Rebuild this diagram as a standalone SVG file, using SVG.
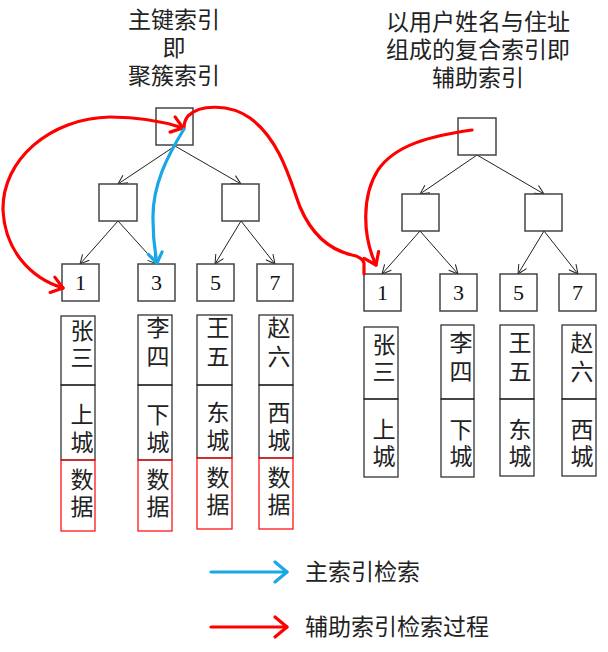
<svg xmlns="http://www.w3.org/2000/svg" width="608" height="652" viewBox="0 0 608 652">
  <style>
    .box { fill: #fff; stroke: #444; stroke-width: 1.5; }
    .col { fill: none; stroke: #222; stroke-width: 1.2; }
    .dat { fill: none; stroke: #f00; stroke-width: 1.2; }
    .cjk { font-family: "Liberation Sans", "Noto Sans CJK SC", sans-serif; font-size: 23px; fill: #222; text-anchor: middle; }
    .num { font-family: "Liberation Serif", serif; font-size: 22px; fill: #111; text-anchor: middle; }
    .edge { stroke: #222; stroke-width: 1; fill: none; marker-end: url(#thin); }
    .red { stroke: #f00; stroke-width: 3.2; fill: none; stroke-linecap: round; }
    .blue { stroke: #1aa7e6; stroke-width: 3.2; fill: none; stroke-linecap: round; }
  </style>
  <defs>
    <marker id="thin" markerUnits="userSpaceOnUse" markerWidth="12" markerHeight="12" refX="9" refY="4.5" orient="auto" overflow="visible">
      <path d="M0,0 L9,4.5 L0,9" fill="none" stroke="#222" stroke-width="1"/>
    </marker>
    <marker id="redHead" markerUnits="userSpaceOnUse" markerWidth="16" markerHeight="16" refX="11" refY="8" orient="auto" overflow="visible">
      <path d="M0,0 L11,8 L0,16" fill="none" stroke="#f00" stroke-width="3.2" stroke-linecap="round" stroke-linejoin="round"/>
    </marker>
    <marker id="redStart" markerUnits="userSpaceOnUse" markerWidth="16" markerHeight="16" refX="11" refY="8" orient="auto-start-reverse" overflow="visible">
      <path d="M0,0 L11,8 L0,16" fill="none" stroke="#f00" stroke-width="3.2" stroke-linecap="round" stroke-linejoin="round"/>
    </marker>
    <marker id="blueHead" markerUnits="userSpaceOnUse" markerWidth="16" markerHeight="16" refX="10" refY="7" orient="auto" overflow="visible">
      <path d="M0,0 L10,7 L0,14" fill="none" stroke="#1aa7e6" stroke-width="3.2" stroke-linecap="round" stroke-linejoin="round"/>
    </marker>
    <marker id="legRed" markerUnits="userSpaceOnUse" markerWidth="16" markerHeight="24" refX="12" refY="10" orient="auto" overflow="visible">
      <path d="M0,0 L12,10 L0,20" fill="none" stroke="#f00" stroke-width="3.2" stroke-linecap="round" stroke-linejoin="round"/>
    </marker>
    <marker id="legBlue" markerUnits="userSpaceOnUse" markerWidth="16" markerHeight="24" refX="12" refY="10" orient="auto" overflow="visible">
      <path d="M0,0 L12,10 L0,20" fill="none" stroke="#1aa7e6" stroke-width="3.2" stroke-linecap="round" stroke-linejoin="round"/>
    </marker>
  </defs>

  <!-- titles -->
  <g id="title-clustered">
    <text class="cjk"><tspan x="174" y="28">主键索引</tspan><tspan x="174" y="56">即</tspan><tspan x="174" y="84">聚簇索引</tspan></text>
  </g>
  <g id="title-secondary">
    <text class="cjk"><tspan x="478" y="30">以用户姓名与住址</tspan><tspan x="478" y="58">组成的复合索引即</tspan><tspan x="478" y="86">辅助索引</tspan></text>
  </g>

  <!-- tree edges -->
  <g id="connectors">
    <path class="edge" d="M175,146 L118,184"/>
    <path class="edge" d="M175,146 L241,184"/>
    <path class="edge" d="M118,221 L80,264"/>
    <path class="edge" d="M118,221 L157,264"/>
    <path class="edge" d="M241,221 L215,264"/>
    <path class="edge" d="M241,221 L275,264"/>
    <path class="edge" d="M477,155 L420,194"/>
    <path class="edge" d="M477,155 L544,194"/>
    <path class="edge" d="M420,231 L382,274"/>
    <path class="edge" d="M420,231 L458,274"/>
    <path class="edge" d="M544,231 L518,274"/>
    <path class="edge" d="M544,231 L578,274"/>
  </g>

  <!-- clustered index tree -->
  <g id="c-root"><rect class="box" x="156" y="108" width="37" height="37"/></g>
  <g id="c-mid-left"><rect class="box" x="99" y="184" width="38" height="37"/></g>
  <g id="c-mid-right"><rect class="box" x="222" y="184" width="37" height="37"/></g>
  <g id="c-leaf-1"><rect class="box" x="62" y="264" width="37" height="37"/><text class="num" x="80.5" y="290">1</text></g>
  <g id="c-leaf-3"><rect class="box" x="138" y="264" width="37" height="37"/><text class="num" x="156.5" y="290">3</text></g>
  <g id="c-leaf-5"><rect class="box" x="197" y="264" width="37" height="37"/><text class="num" x="215.5" y="290">5</text></g>
  <g id="c-leaf-7"><rect class="box" x="257" y="264" width="36" height="37"/><text class="num" x="275" y="290">7</text></g>

  <!-- clustered rows: name / address / data -->
  <g id="c-row-1">
    <rect class="col" x="61" y="316" width="34" height="69"/>
    <rect class="col" x="61" y="385" width="34" height="75"/>
    <rect class="dat" x="61" y="460" width="34" height="71"/>
    <text class="cjk"><tspan x="82" y="339">张</tspan><tspan x="82" y="366">三</tspan></text>
    <text class="cjk"><tspan x="82" y="423">上</tspan><tspan x="82" y="451">城</tspan></text>
    <text class="cjk"><tspan x="82" y="488">数</tspan><tspan x="82" y="515">据</tspan></text>
  </g>
  <g id="c-row-3">
    <rect class="col" x="138" y="315" width="34" height="70"/>
    <rect class="col" x="138" y="385" width="34" height="75"/>
    <rect class="dat" x="138" y="460" width="34" height="71"/>
    <text class="cjk"><tspan x="158" y="336">李</tspan><tspan x="158" y="365">四</tspan></text>
    <text class="cjk"><tspan x="158" y="423">下</tspan><tspan x="158" y="451">城</tspan></text>
    <text class="cjk"><tspan x="158" y="488">数</tspan><tspan x="158" y="515">据</tspan></text>
  </g>
  <g id="c-row-5">
    <rect class="col" x="197" y="315" width="35" height="70"/>
    <rect class="col" x="197" y="385" width="35" height="73"/>
    <rect class="dat" x="197" y="458" width="35" height="71"/>
    <text class="cjk"><tspan x="218" y="336">王</tspan><tspan x="218" y="365">五</tspan></text>
    <text class="cjk"><tspan x="218" y="421">东</tspan><tspan x="218" y="449">城</tspan></text>
    <text class="cjk"><tspan x="218" y="486">数</tspan><tspan x="218" y="513">据</tspan></text>
  </g>
  <g id="c-row-7">
    <rect class="col" x="259" y="315" width="34" height="70"/>
    <rect class="col" x="259" y="385" width="34" height="73"/>
    <rect class="dat" x="259" y="458" width="34" height="71"/>
    <text class="cjk"><tspan x="279" y="336">赵</tspan><tspan x="279" y="365">六</tspan></text>
    <text class="cjk"><tspan x="279" y="421">西</tspan><tspan x="279" y="449">城</tspan></text>
    <text class="cjk"><tspan x="279" y="486">数</tspan><tspan x="279" y="513">据</tspan></text>
  </g>

  <!-- secondary index tree -->
  <g id="s-root"><rect class="box" x="458" y="118" width="38" height="37"/></g>
  <g id="s-mid-left"><rect class="box" x="402" y="194" width="37" height="37"/></g>
  <g id="s-mid-right"><rect class="box" x="525" y="194" width="37" height="37"/></g>
  <g id="s-leaf-1"><rect class="box" x="364" y="274" width="37" height="37"/><text class="num" x="382.5" y="300">1</text></g>
  <g id="s-leaf-3"><rect class="box" x="440" y="274" width="37" height="37"/><text class="num" x="458.5" y="300">3</text></g>
  <g id="s-leaf-5"><rect class="box" x="500" y="274" width="37" height="37"/><text class="num" x="518.5" y="300">5</text></g>
  <g id="s-leaf-7"><rect class="box" x="559" y="274" width="37" height="37"/><text class="num" x="577.5" y="300">7</text></g>

  <!-- secondary rows: name / address -->
  <g id="s-row-1">
    <rect class="col" x="364" y="327" width="34" height="72"/>
    <rect class="col" x="364" y="399" width="34" height="78"/>
    <text class="cjk"><tspan x="384" y="353">张</tspan><tspan x="384" y="380">三</tspan></text>
    <text class="cjk"><tspan x="384" y="438">上</tspan><tspan x="384" y="465">城</tspan></text>
  </g>
  <g id="s-row-3">
    <rect class="col" x="441" y="325" width="33" height="74"/>
    <rect class="col" x="441" y="399" width="33" height="78"/>
    <text class="cjk"><tspan x="461" y="351">李</tspan><tspan x="461" y="380">四</tspan></text>
    <text class="cjk"><tspan x="461" y="438">下</tspan><tspan x="461" y="465">城</tspan></text>
  </g>
  <g id="s-row-5">
    <rect class="col" x="500" y="325" width="34" height="74"/>
    <rect class="col" x="500" y="399" width="34" height="77"/>
    <text class="cjk"><tspan x="520" y="351">王</tspan><tspan x="520" y="380">五</tspan></text>
    <text class="cjk"><tspan x="520" y="438">东</tspan><tspan x="520" y="465">城</tspan></text>
  </g>
  <g id="s-row-7">
    <rect class="col" x="562" y="325" width="34" height="74"/>
    <rect class="col" x="562" y="399" width="34" height="77"/>
    <text class="cjk"><tspan x="582" y="351">赵</tspan><tspan x="582" y="380">六</tspan></text>
    <text class="cjk"><tspan x="582" y="438">西</tspan><tspan x="582" y="465">城</tspan></text>
  </g>

  <!-- lookup paths -->
  <g id="lookup-paths">
    <path class="red" marker-end="url(#redHead)" d="M472,130 C430,136 395,145 378,170 C362,195 362,235 376,265"/>
    <path class="red" d="M364,274 L364,263 Q362,257 352,255 C330,250 312,235 300,207 C290,180 280,140 250,118 C230,104 200,104 188,116 Q184,121 184,128"/>
    <path class="red" marker-start="url(#redStart)" marker-end="url(#redHead)" d="M63,288 C30,278 5,250 3,210 C2,160 50,118 110,117 C140,117 165,122 183,128"/>
    <path class="blue" marker-end="url(#blueHead)" d="M184,129 C168,155 152,185 153,220 C153,240 155,252 157,263"/>
  </g>

  <!-- legend -->
  <g id="legend-primary">
    <path class="blue" marker-end="url(#legBlue)" d="M211,572 L287,572"/>
    <text class="cjk" x="305" y="580" style="text-anchor:start">主索引检索</text>
  </g>
  <g id="legend-secondary">
    <path class="red" marker-end="url(#legRed)" d="M211,627 L287,627"/>
    <text class="cjk" x="305" y="635" style="text-anchor:start">辅助索引检索过程</text>
  </g>
</svg>
